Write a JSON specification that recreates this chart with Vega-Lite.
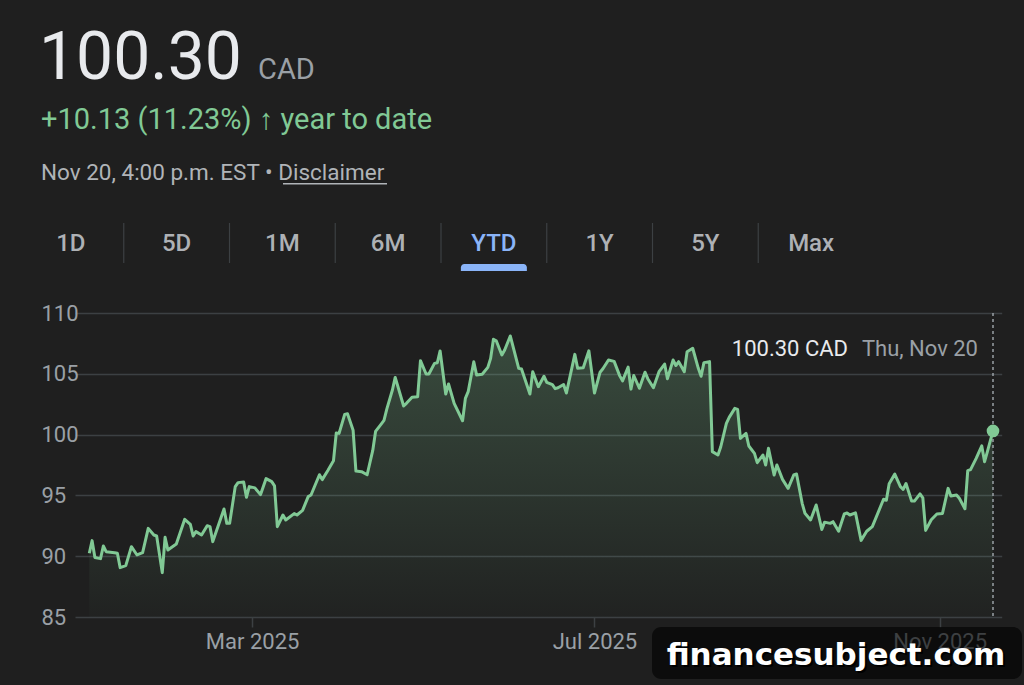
{
  "$schema": "https://vega.github.io/schema/vega-lite/v6.json",
  "width": 926.7,
  "height": 304,
  "autosize": {"type": "none"},
  "padding": {"left": 75, "top": 313, "right": 22.3, "bottom": 68},
  "background": "#1f1f1f",
  "config": {"view": {"stroke": null}, "font": "Roboto", "text": {"font": "Roboto"}},
  "datasets": {
    "prices": [
      {"date": "2025-01-02", "close": 90.24}, {"date": "2025-01-03", "close": 91.28}, {"date": "2025-01-04", "close": 89.9},
      {"date": "2025-01-06", "close": 89.8}, {"date": "2025-01-07", "close": 90.84}, {"date": "2025-01-08", "close": 90.37},
      {"date": "2025-01-11", "close": 90.29}, {"date": "2025-01-12", "close": 90.24}, {"date": "2025-01-13", "close": 89.06},
      {"date": "2025-01-15", "close": 89.22}, {"date": "2025-01-17", "close": 90.78}, {"date": "2025-01-19", "close": 90.1},
      {"date": "2025-01-21", "close": 90.29}, {"date": "2025-01-23", "close": 92.29}, {"date": "2025-01-25", "close": 91.74},
      {"date": "2025-01-26", "close": 91.66}, {"date": "2025-01-28", "close": 88.65}, {"date": "2025-01-29", "close": 91.55},
      {"date": "2025-01-30", "close": 90.51}, {"date": "2025-02-02", "close": 91.0}, {"date": "2025-02-05", "close": 93.03},
      {"date": "2025-02-07", "close": 92.62}, {"date": "2025-02-08", "close": 91.66}, {"date": "2025-02-09", "close": 92.02},
      {"date": "2025-02-11", "close": 91.74}, {"date": "2025-02-13", "close": 92.51}, {"date": "2025-02-14", "close": 92.43},
      {"date": "2025-02-15", "close": 91.2}, {"date": "2025-02-19", "close": 93.88}, {"date": "2025-02-20", "close": 92.7},
      {"date": "2025-02-21", "close": 92.7}, {"date": "2025-02-23", "close": 95.72}, {"date": "2025-02-24", "close": 96.05},
      {"date": "2025-02-26", "close": 96.1}, {"date": "2025-02-27", "close": 94.84}, {"date": "2025-02-28", "close": 95.72},
      {"date": "2025-03-02", "close": 95.62}, {"date": "2025-03-04", "close": 95.06}, {"date": "2025-03-06", "close": 96.38},
      {"date": "2025-03-08", "close": 96.13}, {"date": "2025-03-09", "close": 95.78}, {"date": "2025-03-10", "close": 92.43},
      {"date": "2025-03-12", "close": 93.39}, {"date": "2025-03-13", "close": 92.98}, {"date": "2025-03-16", "close": 93.5},
      {"date": "2025-03-17", "close": 93.39}, {"date": "2025-03-19", "close": 93.77}, {"date": "2025-03-21", "close": 94.9},
      {"date": "2025-03-22", "close": 95.03}, {"date": "2025-03-25", "close": 96.7}, {"date": "2025-03-26", "close": 96.3},
      {"date": "2025-03-28", "close": 97.05}, {"date": "2025-03-30", "close": 97.84}, {"date": "2025-03-31", "close": 100.13},
      {"date": "2025-04-01", "close": 100.1}, {"date": "2025-04-03", "close": 101.66}, {"date": "2025-04-04", "close": 101.72},
      {"date": "2025-04-06", "close": 100.35}, {"date": "2025-04-07", "close": 97.0}, {"date": "2025-04-09", "close": 96.95},
      {"date": "2025-04-11", "close": 96.7}, {"date": "2025-04-13", "close": 98.7}, {"date": "2025-04-14", "close": 100.26},
      {"date": "2025-04-16", "close": 100.86}, {"date": "2025-04-17", "close": 101.17}, {"date": "2025-04-18", "close": 102.1},
      {"date": "2025-04-20", "close": 103.67}, {"date": "2025-04-21", "close": 104.7}, {"date": "2025-04-24", "close": 102.35},
      {"date": "2025-04-25", "close": 102.57}, {"date": "2025-04-27", "close": 103.07}, {"date": "2025-04-29", "close": 103.12},
      {"date": "2025-04-30", "close": 106.08}, {"date": "2025-05-02", "close": 104.98}, {"date": "2025-05-03", "close": 104.98},
      {"date": "2025-05-05", "close": 105.86}, {"date": "2025-05-06", "close": 105.91}, {"date": "2025-05-07", "close": 106.88},
      {"date": "2025-05-09", "close": 103.34}, {"date": "2025-05-10", "close": 104.16}, {"date": "2025-05-12", "close": 102.57},
      {"date": "2025-05-15", "close": 101.14}, {"date": "2025-05-16", "close": 102.98}, {"date": "2025-05-17", "close": 103.53},
      {"date": "2025-05-19", "close": 105.99}, {"date": "2025-05-20", "close": 104.9}, {"date": "2025-05-22", "close": 104.96},
      {"date": "2025-05-24", "close": 105.53}, {"date": "2025-05-25", "close": 106.27}, {"date": "2025-05-26", "close": 107.84},
      {"date": "2025-05-27", "close": 107.72}, {"date": "2025-05-29", "close": 106.55}, {"date": "2025-05-30", "close": 106.96},
      {"date": "2025-06-01", "close": 108.11}, {"date": "2025-06-04", "close": 105.45}, {"date": "2025-06-05", "close": 105.39},
      {"date": "2025-06-08", "close": 103.34}, {"date": "2025-06-09", "close": 105.17}, {"date": "2025-06-11", "close": 103.94},
      {"date": "2025-06-13", "close": 104.8}, {"date": "2025-06-14", "close": 104.3}, {"date": "2025-06-16", "close": 104.1},
      {"date": "2025-06-17", "close": 103.78}, {"date": "2025-06-18", "close": 103.85}, {"date": "2025-06-20", "close": 104.12},
      {"date": "2025-06-21", "close": 103.42}, {"date": "2025-06-24", "close": 106.6}, {"date": "2025-06-25", "close": 105.45},
      {"date": "2025-06-27", "close": 105.5}, {"date": "2025-06-29", "close": 106.89}, {"date": "2025-07-01", "close": 103.42},
      {"date": "2025-07-03", "close": 105.13}, {"date": "2025-07-04", "close": 105.41}, {"date": "2025-07-06", "close": 106.13},
      {"date": "2025-07-08", "close": 106.02}, {"date": "2025-07-10", "close": 104.83}, {"date": "2025-07-11", "close": 104.42},
      {"date": "2025-07-13", "close": 105.55}, {"date": "2025-07-14", "close": 103.74}, {"date": "2025-07-15", "close": 104.86},
      {"date": "2025-07-17", "close": 103.81}, {"date": "2025-07-19", "close": 105.13}, {"date": "2025-07-20", "close": 104.6},
      {"date": "2025-07-22", "close": 103.85}, {"date": "2025-07-24", "close": 105.17}, {"date": "2025-07-26", "close": 105.8},
      {"date": "2025-07-27", "close": 104.6}, {"date": "2025-07-29", "close": 106.13}, {"date": "2025-07-30", "close": 105.68},
      {"date": "2025-07-31", "close": 106.0}, {"date": "2025-08-02", "close": 105.17}, {"date": "2025-08-03", "close": 106.82},
      {"date": "2025-08-05", "close": 107.1}, {"date": "2025-08-07", "close": 105.45}, {"date": "2025-08-08", "close": 104.8},
      {"date": "2025-08-09", "close": 105.92}, {"date": "2025-08-11", "close": 106.0}, {"date": "2025-08-12", "close": 98.6},
      {"date": "2025-08-14", "close": 98.32}, {"date": "2025-08-15", "close": 99.0}, {"date": "2025-08-17", "close": 100.93},
      {"date": "2025-08-18", "close": 101.42}, {"date": "2025-08-20", "close": 102.16}, {"date": "2025-08-21", "close": 102.08},
      {"date": "2025-08-22", "close": 99.69}, {"date": "2025-08-24", "close": 100.1}, {"date": "2025-08-25", "close": 99.06},
      {"date": "2025-08-27", "close": 98.46}, {"date": "2025-08-28", "close": 97.69}, {"date": "2025-08-30", "close": 98.32},
      {"date": "2025-08-31", "close": 97.5}, {"date": "2025-09-01", "close": 98.87}, {"date": "2025-09-03", "close": 96.68},
      {"date": "2025-09-04", "close": 97.5}, {"date": "2025-09-06", "close": 96.32}, {"date": "2025-09-08", "close": 95.58},
      {"date": "2025-09-10", "close": 96.68}, {"date": "2025-09-11", "close": 96.76}, {"date": "2025-09-13", "close": 94.35},
      {"date": "2025-09-14", "close": 93.53}, {"date": "2025-09-16", "close": 92.98}, {"date": "2025-09-18", "close": 94.21},
      {"date": "2025-09-20", "close": 92.2}, {"date": "2025-09-21", "close": 92.8}, {"date": "2025-09-23", "close": 92.7},
      {"date": "2025-09-24", "close": 92.84}, {"date": "2025-09-26", "close": 92.05}, {"date": "2025-09-28", "close": 93.47},
      {"date": "2025-09-29", "close": 93.55}, {"date": "2025-09-30", "close": 93.39}, {"date": "2025-10-02", "close": 93.56},
      {"date": "2025-10-04", "close": 91.3}, {"date": "2025-10-06", "close": 92.05}, {"date": "2025-10-08", "close": 92.43},
      {"date": "2025-10-12", "close": 94.68}, {"date": "2025-10-13", "close": 94.6}, {"date": "2025-10-14", "close": 95.96},
      {"date": "2025-10-16", "close": 96.75}, {"date": "2025-10-18", "close": 95.72}, {"date": "2025-10-19", "close": 95.5},
      {"date": "2025-10-20", "close": 95.98}, {"date": "2025-10-22", "close": 94.53}, {"date": "2025-10-23", "close": 94.53},
      {"date": "2025-10-25", "close": 95.12}, {"date": "2025-10-26", "close": 94.8}, {"date": "2025-10-27", "close": 92.12},
      {"date": "2025-10-29", "close": 93.0}, {"date": "2025-10-31", "close": 93.47}, {"date": "2025-11-02", "close": 93.52},
      {"date": "2025-11-04", "close": 95.58}, {"date": "2025-11-05", "close": 94.95}, {"date": "2025-11-07", "close": 95.03},
      {"date": "2025-11-08", "close": 94.76}, {"date": "2025-11-10", "close": 93.9}, {"date": "2025-11-11", "close": 97.03},
      {"date": "2025-11-12", "close": 97.12}, {"date": "2025-11-14", "close": 98.05}, {"date": "2025-11-16", "close": 99.07},
      {"date": "2025-11-17", "close": 97.77}, {"date": "2025-11-18", "close": 98.6}, {"date": "2025-11-20", "close": 100.3}
    ],
    "tabs": [
      {"tab": "1D"}, {"tab": "5D"}, {"tab": "1M"}, {"tab": "6M"}, {"tab": "YTD"}, {"tab": "1Y"}, {"tab": "5Y"}, {"tab": "Max"}
    ]
  },
  "layer": [
    {
      "data": {"name": "prices"},
      "encoding": {
        "x": {
          "field": "date", "type": "temporal",
          "scale": {"type": "utc", "domain": [
            {"year": 2024, "month": 12, "date": 27, "hours": 21, "minutes": 43, "utc": true},
            {"year": 2025, "month": 11, "date": 23, "hours": 2, "minutes": 24, "utc": true}
          ]},
          "axis": {
            "title": null, "values": [
              {"year": 2025, "month": 3, "date": 1, "utc": true},
              {"year": 2025, "month": 7, "date": 1, "utc": true},
              {"year": 2025, "month": 11, "date": 1, "utc": true}
            ],
            "format": "%b %Y", "grid": false, "domain": false, "ticks": true, "tickSize": 10,
            "tickColor": "#3c4043", "tickWidth": 1.5, "labelPadding": 4, "labelFontSize": 22,
            "labelColor": "#9aa0a6", "labelFont": "Roboto", "labelFlush": false
          }
        },
        "y": {
          "field": "close", "type": "quantitative",
          "scale": {"domain": [85, 110], "nice": false, "zero": false},
          "axis": {
            "title": null, "values": [85, 90, 95, 100, 105, 110], "grid": true, "gridColor": "#3c4043",
            "gridWidth": 1.5, "domain": false, "ticks": false, "tickSize": 0, "labelAlign": "left",
            "labelBaseline": "middle", "labelPadding": 34, "labelFontSize": 22, "labelColor": "#9aa0a6",
            "labelFont": "Roboto"
          }
        }
      },
      "layer": [
        {
          "mark": {"type": "area", "color": {"gradient": "linear", "x1": 0, "y1": 0, "x2": 0, "y2": 1,
            "stops": [{"offset": 0, "color": "rgba(129,201,149,0.26)"}, {"offset": 1, "color": "rgba(129,201,149,0.02)"}]}},
          "encoding": {"y2": {"datum": 85}}
        },
        {"mark": {"type": "line", "color": "#81c995", "strokeWidth": 3, "strokeJoin": "round"}},
        {
          "transform": [{"filter": "time(toDate(datum.date)) === time(toDate('2025-11-20'))"}],
          "mark": {"type": "rule", "color": "#9aa0a6", "strokeWidth": 1.5, "strokeDash": [3, 3]},
          "encoding": {"y": {"datum": 110}, "y2": {"datum": 85}}
        },
        {
          "transform": [{"filter": "time(toDate(datum.date)) === time(toDate('2025-11-20'))"}],
          "mark": {"type": "point", "filled": true, "size": 160, "color": "#81c995", "opacity": 1}
        },
        {
          "transform": [{"filter": "time(toDate(datum.date)) === time(toDate('2025-11-20'))"}],
          "mark": {"type": "text", "align": "right", "baseline": "middle", "dx": -15, "fontSize": 22, "color": "#9aa0a6", "text": "Thu, Nov 20"},
          "encoding": {"y": {"value": 36}}
        },
        {
          "transform": [{"filter": "time(toDate(datum.date)) === time(toDate('2025-11-20'))"}],
          "mark": {"type": "text", "align": "right", "baseline": "middle", "dx": -145, "fontSize": 22, "color": "#e8eaed", "text": "100.30 CAD"},
          "encoding": {"y": {"value": 36}}
        }
      ]
    },
    {
      "data": {"name": "tabs"},
      "encoding": {
        "x": {"field": "tab", "type": "nominal", "sort": null,
          "scale": {"type": "band", "range": [-57, 789], "paddingInner": 0, "paddingOuter": 0}, "axis": null}
      },
      "layer": [
        {
          "mark": {"type": "text", "y": -69, "baseline": "middle", "fontSize": 24, "fontWeight": 500},
          "encoding": {
            "text": {"field": "tab"},
            "color": {"condition": {"test": "datum.tab === 'YTD'", "value": "#8ab4f8"}, "value": "#aeb1b5"}
          }
        },
        {
          "transform": [{"filter": "datum.tab !== '1D'"}],
          "mark": {"type": "rule", "y": -90, "y2": -50, "color": "#3c4043", "strokeWidth": 1.2},
          "encoding": {"x": {"field": "tab", "type": "nominal", "sort": null, "bandPosition": 0}}
        },
        {
          "transform": [{"filter": "datum.tab === 'YTD'"}],
          "mark": {"type": "bar", "y": -49, "y2": -42, "width": 66, "color": "#8ab4f8",
            "cornerRadiusTopLeft": 5, "cornerRadiusTopRight": 5}
        }
      ]
    },
    {
      "data": {"values": [{}]},
      "mark": {"type": "text", "text": "100.30", "x": -36, "y": -234, "align": "left", "baseline": "alphabetic", "fontSize": 66, "color": "#e8eaed"}
    },
    {
      "data": {"values": [{}]},
      "mark": {"type": "text", "text": "CAD", "x": 183, "y": -234, "align": "left", "baseline": "alphabetic", "fontSize": 29, "color": "#9aa0a6"}
    },
    {
      "data": {"values": [{}]},
      "mark": {"type": "text", "text": "+10.13 (11.23%) ↑ year to date", "x": -34, "y": -184, "align": "left", "baseline": "alphabetic", "fontSize": 29, "color": "#81c995"}
    },
    {
      "data": {"values": [{}]},
      "mark": {"type": "text", "text": "Nov 20, 4:00 p.m. EST • Disclaimer", "x": -34, "y": -133, "align": "left", "baseline": "alphabetic", "fontSize": 22.5, "color": "#b0b4b8"}
    },
    {
      "data": {"values": [{}]},
      "mark": {"type": "rect", "x": 208, "x2": 312, "y": -130, "y2": -128.5, "color": "#b0b4b8"}
    },
    {
      "data": {"values": [{}]},
      "mark": {"type": "rect", "x": 577, "x2": 947, "y": 314, "y2": 366, "cornerRadius": 9, "color": "rgba(0,0,0,0.6)"}
    },
    {
      "data": {"values": [{}]},
      "mark": {"type": "text", "text": "financesubject.com", "x": 763, "y": 354, "align": "center", "baseline": "alphabetic", "font": "DejaVu Sans", "fontWeight": "bold", "fontSize": 31, "color": "#000000"}
    },
    {
      "data": {"values": [{}]},
      "mark": {"type": "text", "text": "financesubject.com", "x": 761, "y": 352, "align": "center", "baseline": "alphabetic", "font": "DejaVu Sans", "fontWeight": "bold", "fontSize": 31, "color": "#ffffff"}
    }
  ],
  "resolve": {"scale": {"x": "independent"}}
}
